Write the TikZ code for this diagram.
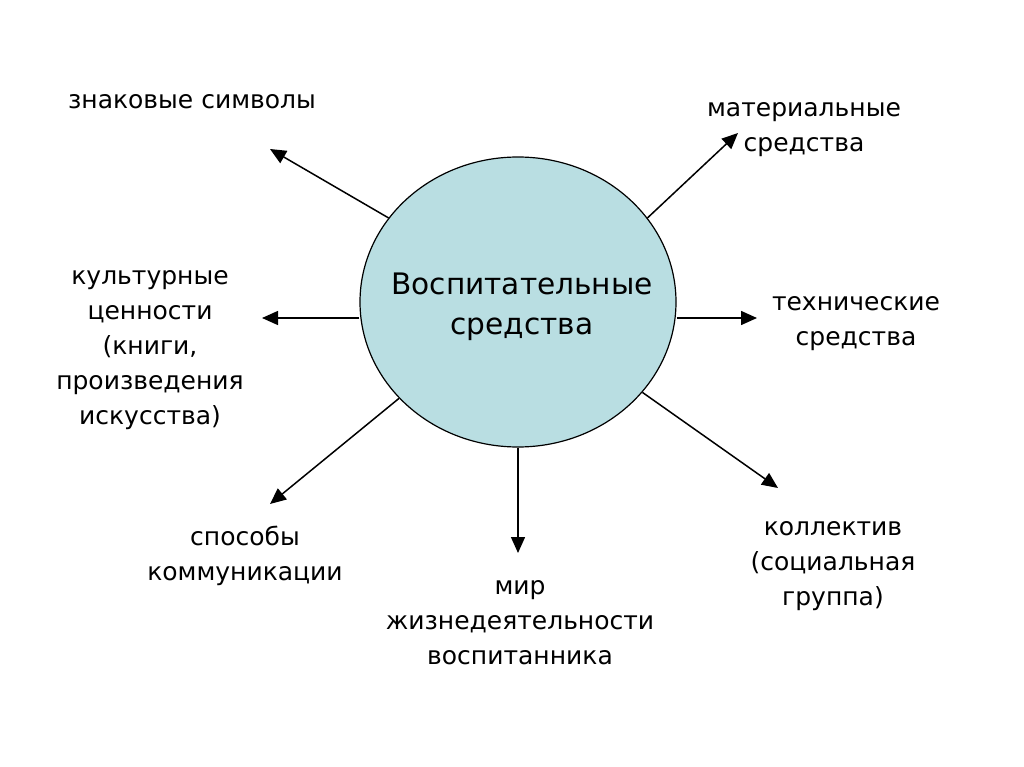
\documentclass[tikz,border=0pt]{standalone}
\usepackage{fontspec}
\setmainfont{DejaVu Sans}
\usepackage{tikz}
\usetikzlibrary{arrows.meta,shapes.geometric}
\definecolor{vsfill}{RGB}{185,222,226}

\begin{document}
\begin{tikzpicture}[x=1pt,y=-1pt,
  hub/.style={ellipse,draw,line width=1.2pt,fill=vsfill,minimum width=316pt,minimum height=290pt,inner sep=0pt},
  hubtxt/.style={align=center,inner sep=0pt,font=\fontsize{29.6}{40}\selectfont},
  lbl/.style={align=center,font=\fontsize{25}{35}\selectfont,inner sep=0pt},
  arr/.style={-{Triangle[length=16pt,width=14pt]},line width=1.5pt}]
  \useasboundingbox (0,0) rectangle (1024,767);
  \node[hub] (mid) at (518,302) {};
  \node[hubtxt] (midtxt) at ([shift={(4,5)}]mid.center) {Воспитательные\\средства};
  \node[lbl] (znak) at (192,102) {знаковые символы};
  \node[lbl] (mat) at (804,130) {материальные\\средства};
  \node[lbl] (kult) at (150,350) {культурные\\ценности\\(книги,\\произведения\\искусства)};
  \node[lbl] (tech) at (856,324) {технические\\средства};
  \node[lbl] (spos) at (245,556) {способы\\коммуникации};
  \node[lbl] (mir) at (520,623) {мир\\жизнедеятельности\\воспитанника};
  \node[lbl] (koll) at (833,566) {коллектив\\(социальная\\группа)};
  \coordinate (tzn) at (270,149);
  \coordinate (tmat) at (738,133);
  \coordinate (tkult) at (262,318);
  \coordinate (ttech) at (757,318);
  \coordinate (tspos) at (270,504);
  \coordinate (tmir) at (518,553);
  \coordinate (tkoll) at (778,488);
  \draw[arr] (mid.147.6) -- (tzn);
  \draw[arr] (mid.33.8) -- (tmat);
  \draw[arr] (mid.west |- tkult) -- (tkult);
  \draw[arr] (mid.east |- ttech) -- (ttech);
  \draw[arr] (mid.219.2) -- (tspos);
  \draw[arr] (mid.south) -- (tmir);
  \draw[arr] (mid.-36.2) -- (tkoll);
\end{tikzpicture}
\end{document}
